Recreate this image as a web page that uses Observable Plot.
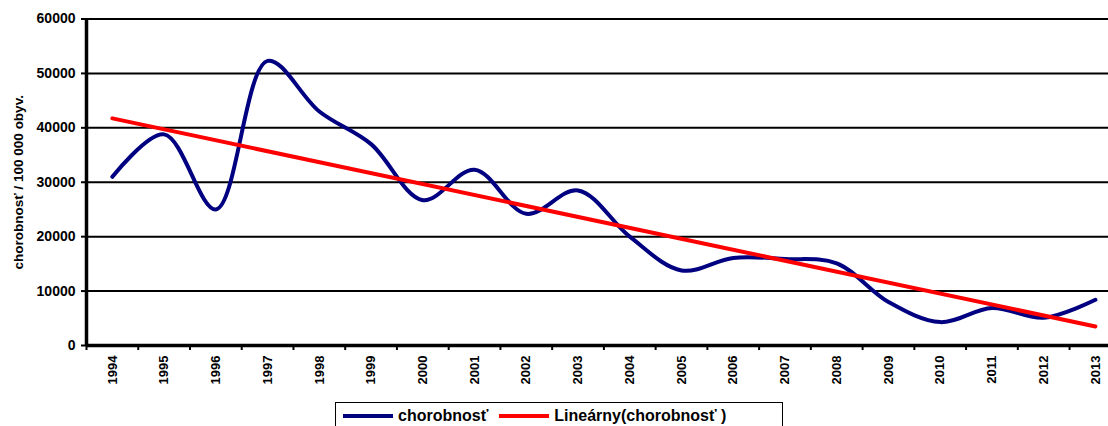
<!DOCTYPE html>
<html>
<head>
<meta charset="utf-8">
<script src="https://cdn.jsdelivr.net/npm/d3@7"></script>
<script src="https://cdn.jsdelivr.net/npm/@observablehq/plot@0.6"></script>
<style>
  html, body { margin: 0; padding: 0; background: #fff; overflow: hidden; }
  body { font-family: "Liberation Sans", Arial, sans-serif; font-weight: bold; }
  #chart svg { display: block; }
  .legend {
    position: relative;
    margin-left: 335px;
    margin-top: 1.5px;
    width: 448px;
    height: 34px;
    border: 1.5px solid #000;
    box-sizing: border-box;
    font-size: 16px;
    font-weight: bold;
    display: flex;
    align-items: flex-start;
    padding-top: 4px;
    padding-left: 7px;
    white-space: nowrap;
  }
  .legend .item { display: flex; align-items: center; margin-right: 11px; }
  .legend .sw { display: inline-block; width: 50px; height: 4px; margin-right: 5px; }
</style>
</head>
<body>
<div id="chart"></div>
<div class="legend">
  <span class="item"><span class="sw" style="background:#000080"></span><span id="s1"></span></span>
  <span class="item"><span class="sw" style="background:#ff0000"></span><span id="s2"></span></span>
</div>
<script>
const years = [1994,1995,1996,1997,1998,1999,2000,2001,2002,2003,2004,2005,2006,2007,2008,2009,2010,2011,2012,2013];
const values = [31000,38800,25000,52300,43000,37000,26700,32300,24200,28500,20000,13800,16100,15900,15100,8000,4300,6900,5100,8400];
const yTicks = [0,10000,20000,30000,40000,50000,60000];
const yLabel = "chorobnosť / 100 000 obyv.";
const seriesName = "chorobnosť";
const trendName = "Lineárny(chorobnosť )";

document.getElementById("s1").textContent = seriesName;
document.getElementById("s2").textContent = trendName;

const data = years.map((year, i) => ({year, value: values[i]}));
const bandEdges = years.map(y => y - 0.5);

const chart = Plot.plot({
  width: 1108,
  height: 400,
  marginLeft: 86,
  marginRight: 0,
  marginTop: 18.5,
  marginBottom: 55,
  style: {fontFamily: '"Liberation Sans", Arial, sans-serif', fontWeight: "bold", color: "#000", background: "#fff"},
  x: {domain: [1993.5, 2013.5], range: [86, 1120.8]},
  y: {domain: [0, 60000]},
  marks: [
    Plot.ruleY(yTicks.filter(d => d > 0), {stroke: "#000", strokeWidth: 2}),
    Plot.axisY({ticks: yTicks, tickSize: 5, tickPadding: 6, tickFormat: d3.format("d"), fontSize: 14, label: null, strokeWidth: 2}),
    Plot.axisX({ticks: years, tickSize: 0, tickPadding: 10, tickRotate: -90, tickFormat: d3.format("d"), fontSize: 13, label: null}),
    Plot.axisX({ticks: bandEdges, tickSize: 5, tickFormat: () => "", label: null, strokeWidth: 2}),
    Plot.ruleY([0], {stroke: "#000", strokeWidth: 3.5}),
    Plot.ruleX([1993.5], {stroke: "#000", strokeWidth: 3.5}),
    Plot.line(data, {x: "year", y: "value", stroke: "#000080", strokeWidth: 4, curve: "catmull-rom"}),
    Plot.linearRegressionY(data, {x: "year", y: "value", stroke: "#ff0000", strokeWidth: 4, ci: 0}),
    Plot.text([yLabel], {frameAnchor: "left", textAnchor: "middle", rotate: -90, dx: -68, fontSize: 13.5, fontWeight: "bold", fill: "#000"})
  ]
});
document.getElementById("chart").append(chart);
</script>
</body>
</html>
